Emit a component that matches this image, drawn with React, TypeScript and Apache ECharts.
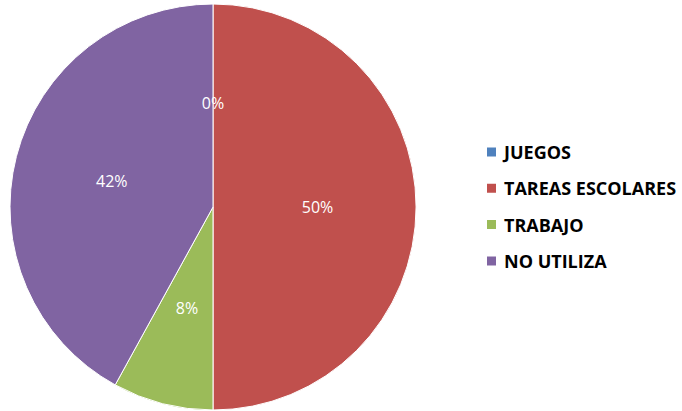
import React, { useEffect, useRef } from "react";
import * as echarts from "echarts";

const categories = ["JUEGOS", "TAREAS ESCOLARES", "TRABAJO", "NO UTILIZA"];
const values = [0, 50, 8, 42];
const colors = ["#4F81BD", "#C0504D", "#9BBB59", "#8064A2"];

export default function App() {
  const ref = useRef<HTMLDivElement>(null);
  useEffect(() => {
    const chart = echarts.init(ref.current!, undefined, { renderer: "svg" });
    chart.setOption({
      animation: false,
      color: colors,
      legend: {
        orient: "vertical",
        left: 485,
        top: 143,
        padding: 0,
        itemWidth: 11,
        itemHeight: 11,
        itemGap: 18.3,
        icon: "rect",
        data: categories,
        textStyle: {
          fontFamily: "Open Sans",
          fontWeight: "bold",
          fontSize: 18,
          lineHeight: 18,
          color: "#000",
          padding: [0, 0, 0, 2],
        },
      },
      series: [
        {
          type: "pie",
          center: [213, 207],
          radius: 203,
          startAngle: 90,
          clockwise: true,
          avoidLabelOverlap: false,
          itemStyle: { borderColor: "#fff", borderWidth: 1 },
          label: {
            show: true,
            position: "inside",
            color: "#fff",
            fontFamily: "Open Sans",
            fontSize: 16,
            formatter: (p: any) => Math.round(p.percent) + "%",
          },
          labelLine: { show: false },
          data: categories.map((name, i) => ({ name, value: values[i] })),
        },
      ],
    });
    return () => chart.dispose();
  }, []);
  return (
    <div
      ref={ref}
      style={{ position: "fixed", left: 0, top: 0, width: 682, height: 411, background: "#fff" }}
    />
  );
}
